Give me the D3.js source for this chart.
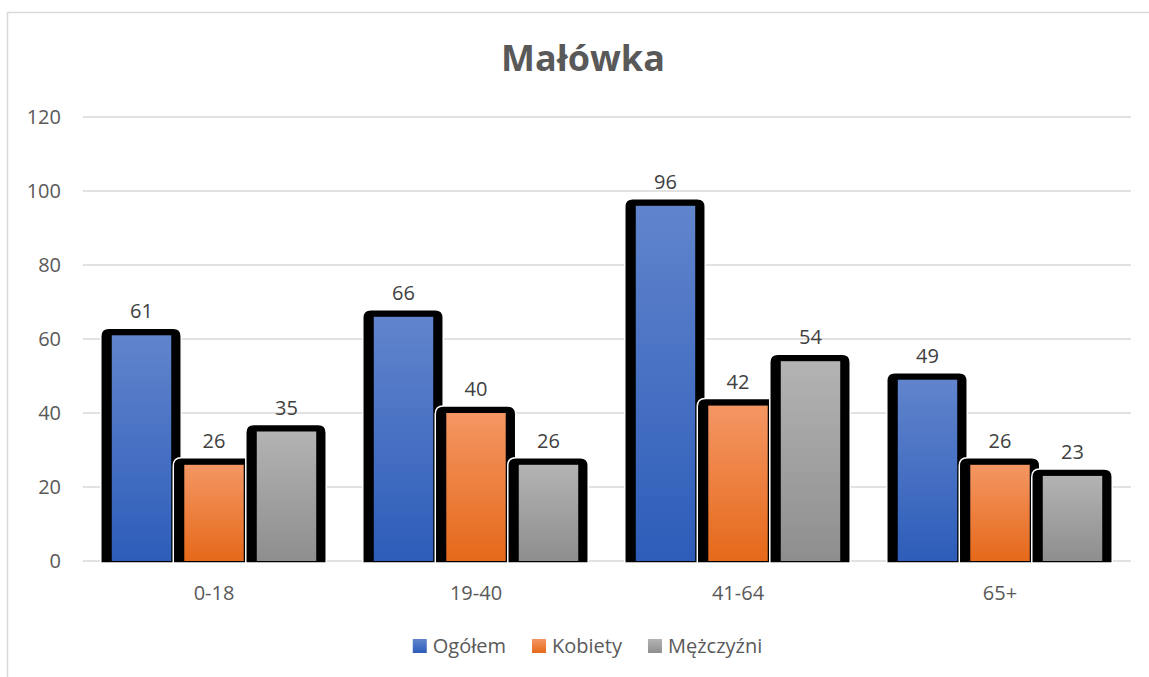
<!DOCTYPE html>
<html>
<head>
<meta charset="utf-8">
<script src="https://cdn.jsdelivr.net/npm/d3@7"></script>
<style>
body { margin: 0; background: #fff; }
text { font-family: "Open Sans", sans-serif; }
</style>
</head>
<body>
<svg width="1149" height="677"></svg>
<script>
var categories = ['0-18', '19-40', '41-64', '65+'];
var series = ['Ogółem', 'Kobiety', 'Mężczyźni'];
var ogolem = [61, 66, 96, 49];
var kobiety = [26, 40, 42, 26];
var mezczyzni = [35, 26, 54, 23];
var yTicks = [0, 20, 40, 60, 80, 100, 120];
var values = [ogolem, kobiety, mezczyzni];
var grads = [['#6184cc', '#2d5db9'], ['#f49663', '#e5691a'], ['#b3b3b3', '#8e8e8e']];

var svg = d3.select('svg');

// gradients
var defs = svg.append('defs');
grads.forEach(function(g, i) {
  var lg = defs.append('linearGradient').attr('id', 'g' + i)
    .attr('x1', 0).attr('y1', 0).attr('x2', 0).attr('y2', 1);
  lg.append('stop').attr('offset', '0%').attr('stop-color', g[0]);
  lg.append('stop').attr('offset', '100%').attr('stop-color', g[1]);
});

// chart frame
svg.append('rect').attr('x', 7.5).attr('y', 12.5).attr('width', 1200).attr('height', 700)
  .attr('fill', 'none').attr('stroke', '#d9d9d9').attr('stroke-width', 1.5);

svg.append('text').attr('x', 583).attr('y', 71).attr('text-anchor', 'middle')
  .attr('font-size', 36).attr('font-weight', 'bold').attr('fill', '#595959').text('Małówka');

var y = d3.scaleLinear().domain([0, 120]).range([561, 117]);
var x0 = d3.scaleBand().domain(categories).range([83, 1131]);
var x1 = d3.scaleBand().domain(series).range([-108.75, 108.75]).paddingInner(0.18).paddingOuter(0.09);

// gridlines
svg.append('g').selectAll('line').data(yTicks).join('line')
  .attr('x1', 83).attr('x2', 1131)
  .attr('y1', function(d) { return y(d); }).attr('y2', function(d) { return y(d); })
  .attr('stroke', '#d9d9d9').attr('stroke-width', 1.5);

svg.append('g').selectAll('text').data(yTicks).join('text')
  .attr('x', 61).attr('y', function(d) { return y(d) + 7; })
  .attr('text-anchor', 'end').attr('font-size', 20).attr('fill', '#595959')
  .text(function(d) { return d; });

svg.append('g').selectAll('text').data(categories).join('text')
  .attr('x', function(d) { return x0(d) + x0.bandwidth() / 2; }).attr('y', 600)
  .attr('text-anchor', 'middle').attr('font-size', 20).attr('fill', '#595959')
  .text(function(d) { return d; });

// bars
var bw = x1.bandwidth();
var base = y(0);
categories.forEach(function(c, ci) {
  var cx = x0(c) + x0.bandwidth() / 2;
  series.forEach(function(s, si) {
    var v = values[si][ci];
    var bx = cx + x1(s);
    var top = y(v);
    var l = bx - 11, r = bx + bw + 10, t = top - 7, b = base + 2, rr = 8;
    var p = 'M' + l + ',' + b + 'L' + l + ',' + (t + rr) + 'Q' + l + ',' + t + ' ' + (l + rr) + ',' + t +
      'L' + (r - rr) + ',' + t + 'Q' + r + ',' + t + ' ' + r + ',' + (t + rr) + 'L' + r + ',' + b + 'Z';
    svg.append('path').attr('d', p).attr('fill', '#000').attr('stroke', '#fff').attr('stroke-width', 1.5);
    svg.append('rect').attr('x', bx).attr('y', top).attr('width', bw).attr('height', base - top)
      .attr('fill', 'url(#g' + si + ')');
    svg.append('text').attr('x', bx + bw / 2).attr('y', top - 17)
      .attr('text-anchor', 'middle').attr('font-size', 20).attr('fill', '#404040').text(v);
  });
});

// legend
var lg = svg.append('g');
var lx = 0;
series.forEach(function(s, i) {
  var it = lg.append('g').attr('transform', 'translate(' + lx + ',0)');
  it.append('rect').attr('x', 0).attr('y', 639).attr('width', 14).attr('height', 14).attr('fill', 'url(#g' + i + ')');
  var t = it.append('text').attr('x', 20).attr('y', 653).attr('font-size', 20).attr('fill', '#595959').text(s);
  lx += 20 + t.node().getComputedTextLength() + 26;
});
var lw = lx - 26;
lg.attr('transform', 'translate(' + (587.5 - lw / 2) + ',0)');
</script>
</body>
</html>
